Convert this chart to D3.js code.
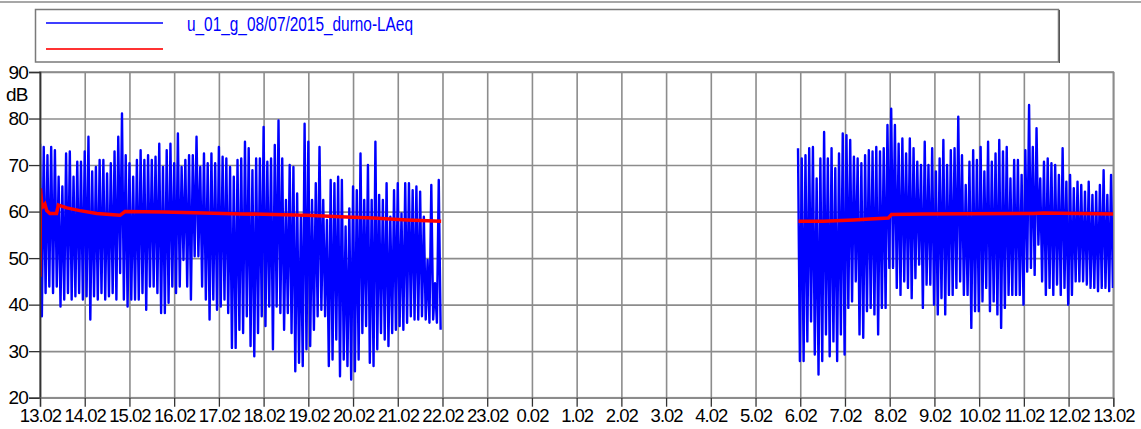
<!DOCTYPE html>
<html>
<head>
<meta charset="utf-8">
<script src="https://cdn.jsdelivr.net/npm/d3@7"></script>
<style>
  body { margin: 0; background: #fff; }
  svg { display: block; font-family: "Liberation Sans", Arial, sans-serif; }
</style>
</head>
<body>
<div id="chart"></div>
<script>
// hours since 13:00, one hi/lo pair every 5 minutes
const STEP = 1 / 12;
const SEG1_START = 0;
const SEG2_START = 16.95;

const xLabels = ["13.02","14.02","15.02","16.02","17.02","18.02","19.02","20.02","21.02","22.02","23.02",
  "0.02","1.02","2.02","3.02","4.02","5.02","6.02","7.02","8.02","9.02","10.02","11.02","12.02","13.02"];
const yTicks = [20, 30, 40, 50, 60, 70, 80, 90];

const seg1Hi = [74.6,73.9,72.1,73.9,73.2,67.5,65.4,72.5,72.9,67.5,
  70.7,70.7,72.9,76.1,68.6,69.6,71.1,71.1,68.2,70.4,
  72.9,76.1,81.1,72.1,70.4,67.5,71.1,73.2,71.1,72.1,
  71.1,71.8,74.6,69.6,73.2,74.6,70.4,76.8,69.6,71.1,
  72.1,72.1,76.1,69.6,72.5,70.4,72.5,70.4,73.9,71.8,
  71.4,69.6,67.5,71.1,71.4,75.0,73.6,68.9,71.4,71.4,
  78.2,70.7,71.4,74.3,79.6,71.4,62.5,70.0,69.6,63.9,
  58.9,78.9,75.0,62.5,66.1,73.9,62.5,58.2,66.8,66.1,
  67.5,66.8,56.8,60.7,65.4,64.6,72.5,62.5,70.0,62.5,
  75.0,63.6,62.5,66.1,58.9,64.6,66.1,59.6,66.1,66.1,
  64.6,65.4,64.3,58.9,49.6,65.7,44.6,66.8];
const seg1Lo = [37.5,42.5,43.9,42.5,43.9,39.6,41.1,42.5,41.1,41.8,
  42.5,41.1,41.8,36.8,41.8,41.1,42.5,41.1,41.8,42.5,
  41.1,46.8,41.1,39.6,41.1,41.1,41.1,42.5,38.9,43.9,
  43.9,42.5,38.2,38.2,40.4,43.9,42.5,43.9,49.6,43.9,
  41.1,50.4,50.4,43.9,41.1,36.8,41.1,38.9,39.6,41.1,
  38.2,30.7,30.7,34.6,33.9,37.5,31.1,28.9,33.9,37.5,
  35.4,39.6,30.4,39.6,38.2,34.6,38.2,33.9,25.7,27.5,
  26.8,30.4,31.1,34.6,37.5,38.9,37.5,26.8,28.2,32.5,
  24.6,28.2,26.8,23.9,25.7,28.2,33.9,35.4,27.5,26.8,
  30.4,33.9,32.5,31.1,33.9,34.6,35.4,34.6,36.1,37.5,
  36.8,36.8,37.5,36.8,36.1,36.8,36.1,34.6];

const seg2Hi = [73.6,71.4,72.1,73.6,73.9,67.1,71.4,77.1,71.4,73.6,
  69.3,72.5,76.8,76.4,75.4,71.8,71.4,70.4,72.1,73.2,
  72.9,73.9,72.9,73.6,78.6,82.1,78.6,74.6,75.7,72.5,
  75.7,73.6,70.7,70.0,75.0,70.0,73.6,68.6,71.4,75.4,
  70.0,73.2,73.6,80.4,72.1,65.7,70.7,73.2,71.1,73.9,
  68.6,75.0,70.7,72.5,75.4,72.9,73.9,67.1,71.1,71.1,
  67.9,73.2,82.9,73.9,77.9,67.1,70.7,71.4,70.4,70.0,
  67.9,73.6,66.4,67.9,65.0,66.4,65.7,64.3,66.4,63.6,
  64.3,65.7,68.9,63.6,67.9];
const seg2Lo = [27.9,27.9,32.1,36.4,29.3,25.0,27.9,33.6,28.9,32.1,
  27.9,33.6,29.3,39.3,40.7,45.0,33.6,32.9,38.6,39.3,
  37.9,33.6,39.3,39.3,47.9,47.9,43.6,42.1,45.0,43.6,
  41.4,45.7,48.6,39.3,44.3,44.3,40.0,37.9,41.4,37.9,
  42.1,42.1,43.6,45.0,42.1,42.1,35.0,38.6,38.6,40.7,
  43.6,38.6,40.7,37.9,35.0,39.3,42.1,42.1,42.1,42.1,
  40.0,47.1,47.9,46.4,52.9,45.0,42.1,43.6,42.1,44.3,
  42.1,43.6,40.0,42.1,45.0,45.0,45.0,44.3,43.6,43.6,
  42.9,43.6,43.6,42.9,43.6];

// running Leq (red)
const red1T = [0,0.01,0.037,0.07,0.11,0.15,0.22,0.3,0.37,0.41,0.6,0.89,1.27,1.64,1.79,1.9,2.76,3.68,4.5,5.22,5.96,6.71,7.45,8.2,8.97];
const red1V = [46,65,61.8,61.1,61.6,60.2,59.6,59.6,59.6,61.4,60.8,60.2,59.6,59.3,59.2,60,59.9,59.7,59.5,59.4,59.2,58.9,58.6,58.2,57.9];
const red2T = [16.96,17.52,18.19,18.56,18.97,19.04,19.75,22.21,22.44,24];
const red2V = [57.9,57.9,58.2,58.4,58.6,59.4,59.5,59.6,59.7,59.5];

const legendLabel = "u_01_g_08/07/2015_durno-LAeq";

const W = 1141, H = 429;
const MARGIN = { TOP: 72, LEFT: 40, RIGHT: 27.7, BOTTOM: 31.3 };
const w = W - MARGIN.LEFT - MARGIN.RIGHT;
const h = H - MARGIN.TOP - MARGIN.BOTTOM;
const GRID = "#8c8c8c";
const BLUE = "#0000ff";
const RED = "#ff0000";

const svg = d3.select("#chart").append("svg")
  .attr("width", W).attr("height", H);

// top rule
svg.append("line")
  .attr("x1", 0).attr("x2", W).attr("y1", 2).attr("y2", 2)
  .attr("stroke", "#8a8a8a").attr("stroke-width", 1.5);

// legend
const lg = svg.append("g");
lg.append("rect")
  .attr("x", 35.5).attr("y", 9.5).attr("width", 1023).attr("height", 52.5)
  .attr("fill", "#fff").attr("stroke", "#7a7a7a").attr("stroke-width", 1.5);
lg.append("line").attr("x1", 1059.5).attr("x2", 1059.5).attr("y1", 10).attr("y2", 63)
  .attr("stroke", "#555").attr("stroke-width", 1);
lg.append("line").attr("x1", 46).attr("x2", 163).attr("y1", 23).attr("y2", 23)
  .attr("stroke", BLUE).attr("stroke-width", 1.8).attr("opacity", 0.75);
lg.append("line").attr("x1", 46).attr("x2", 163).attr("y1", 49).attr("y2", 49)
  .attr("stroke", RED).attr("stroke-width", 1.8).attr("opacity", 0.8);
lg.append("text")
  .attr("x", 187).attr("y", 31)
  .attr("font-size", 20.5)
  .attr("fill", BLUE)
  .attr("textLength", 226).attr("lengthAdjust", "spacingAndGlyphs")
  .text(legendLabel);

const g = svg.append("g").attr("transform", `translate(${MARGIN.LEFT}, ${MARGIN.TOP})`);

const x = d3.scaleLinear().domain([0, 24]).range([0, w]);
const y = d3.scaleLinear().domain([20, 90]).range([h, 0]);

// grid
g.append("g")
  .call(d3.axisBottom(x).tickValues(d3.range(0, 25)).tickSize(h).tickFormat(""))
  .call(s => s.select(".domain").remove())
  .selectAll(".tick line").attr("stroke", GRID).attr("stroke-width", 1.6);
g.append("g")
  .call(d3.axisLeft(y).tickValues(yTicks).tickSize(-w).tickFormat(""))
  .call(s => s.select(".domain").remove())
  .selectAll(".tick line").attr("stroke", GRID).attr("stroke-width", 1.6);

g.append("rect").attr("width", w).attr("height", h)
  .attr("fill", "none").attr("stroke", GRID).attr("stroke-width", 1.6);

// clip
svg.append("defs").append("clipPath").attr("id", "plot")
  .append("rect").attr("width", w).attr("height", h);
const plot = g.append("g").attr("clip-path", "url(#plot)");

function zigzag(start, hi, lo) {
  const pts = [];
  hi.forEach((v, i) => {
    pts.push([start + i * STEP, v]);
    pts.push([start + i * STEP + STEP / 2, lo[i]]);
  });
  return pts;
}

const line = d3.line().x(d => x(d[0])).y(d => y(d[1]));

[zigzag(SEG1_START, seg1Hi, seg1Lo), zigzag(SEG2_START, seg2Hi, seg2Lo)].forEach(pts => {
  plot.append("path").datum(pts)
    .attr("d", line)
    .attr("fill", "none").attr("stroke", BLUE)
    .attr("stroke-width", 2.4).attr("stroke-linejoin", "round");
});

[[red1T, red1V], [red2T, red2V]].forEach(([ts, vs]) => {
  plot.append("path").datum(ts.map((t, i) => [t, vs[i]]))
    .attr("d", line)
    .attr("fill", "none").attr("stroke", RED).attr("stroke-width", 3.5);
});

// axes
const yAxis = g.append("g")
  .call(d3.axisLeft(y).tickValues(yTicks).tickSize(11).tickPadding(1));
yAxis.select(".domain").attr("stroke", "#333").attr("stroke-width", 1.6);
yAxis.selectAll(".tick line").attr("stroke", "#333").attr("stroke-width", 1.3);
yAxis.selectAll(".tick text").attr("font-size", 19).attr("fill", "#000")
  .attr("font-family", "Liberation Sans, Arial, sans-serif").attr("letter-spacing", -0.8);

const xAxis = g.append("g").attr("transform", `translate(0, ${h})`)
  .call(d3.axisBottom(x).tickValues(d3.range(0, 25)).tickFormat(i => xLabels[i]).tickSize(9).tickPadding(2));
xAxis.select(".domain").attr("stroke", GRID).attr("stroke-width", 1.6);
xAxis.selectAll(".tick line").attr("stroke", "#333").attr("stroke-width", 1.3);
xAxis.selectAll(".tick text").attr("font-size", 18.5).attr("fill", "#000")
  .attr("font-family", "Liberation Sans, Arial, sans-serif").attr("letter-spacing", -1);

// unit label
svg.append("text")
  .attr("x", 6).attr("y", 101)
  .attr("font-size", 19).attr("fill", "#000").attr("letter-spacing", -0.8)
  .text("dB");
</script>
</body>
</html>
